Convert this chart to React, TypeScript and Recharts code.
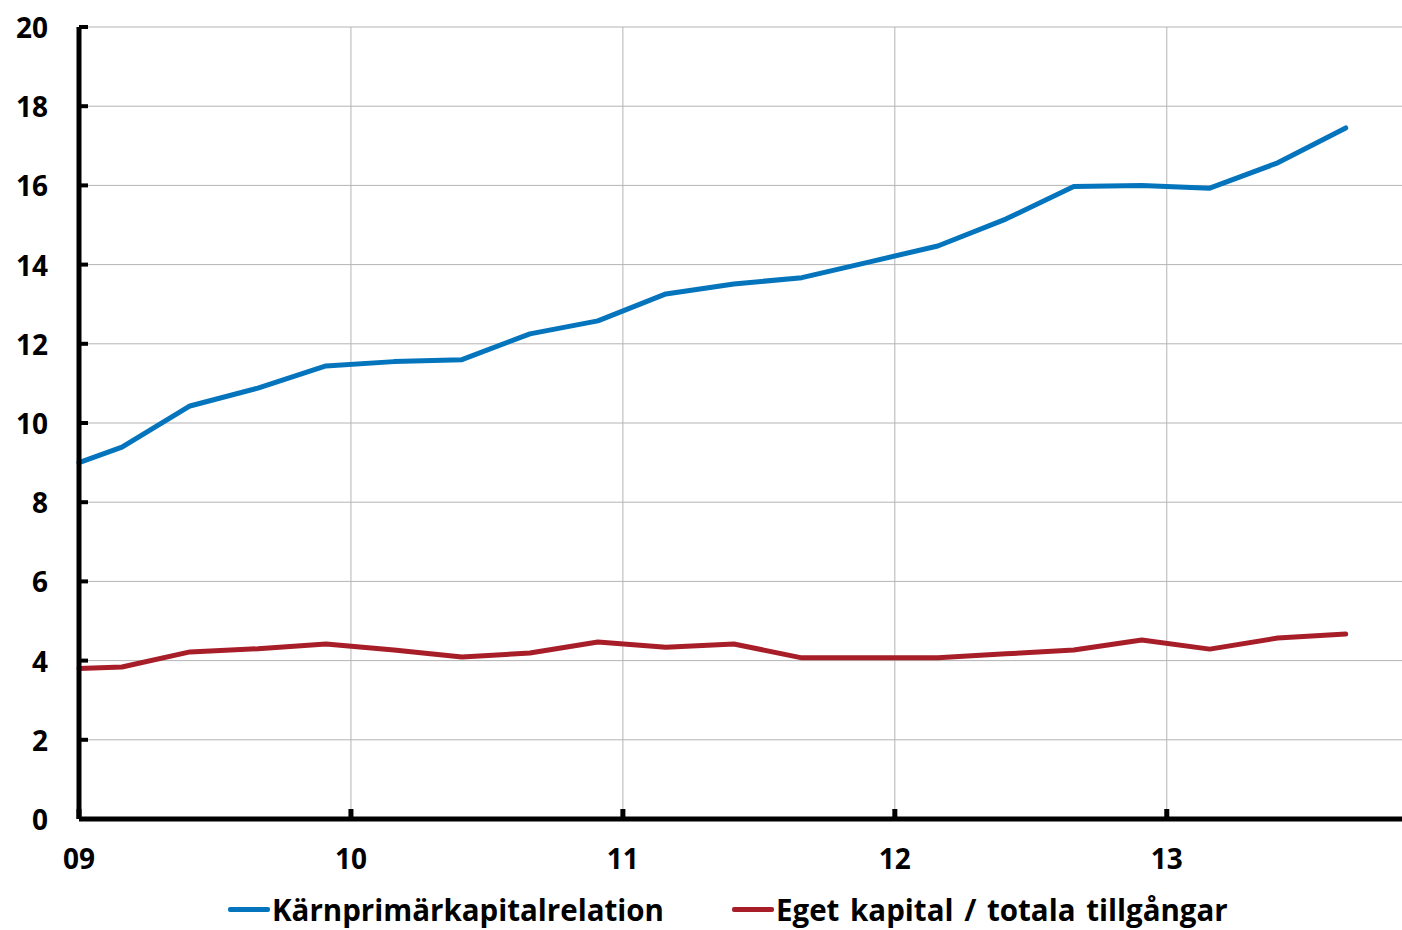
import { LineChart, Line, XAxis, YAxis, CartesianGrid, Legend, ReferenceLine } from 'recharts'

// x position in years (09 = 9.0); first point is where the lines meet the y-axis
const xPos = [
  9.0, 9.158, 9.408, 9.658, 9.908, 10.158, 10.408, 10.658, 10.908, 11.158,
  11.408, 11.658, 11.908, 12.158, 12.408, 12.658, 12.908, 13.158, 13.408, 13.658,
]
const karnprimar = [
  9.0, 9.39, 10.43, 10.88, 11.44, 11.55, 11.6, 12.25, 12.58, 13.26,
  13.51, 13.67, 14.07, 14.47, 15.15, 15.97, 16.0, 15.93, 16.57, 17.45,
]
const egetKapital = [
  3.8, 3.84, 4.22, 4.3, 4.42, 4.27, 4.09, 4.19, 4.47, 4.34,
  4.42, 4.07, 4.07, 4.07, 4.17, 4.27, 4.52, 4.29, 4.57, 4.67,
]
const yearTicks = [9, 10, 11, 12, 13]
const valueTicks = [0, 2, 4, 6, 8, 10, 12, 14, 16, 18, 20]

const BLUE = '#0474BC'
const RED = '#A71E28'
const GRID = '#b4b4b4'
const FONT = '"Open Sans", "Noto Sans", sans-serif'

const data = xPos.map((x, i) => ({
  x,
  karn: karnprimar[i],
  eget: egetKapital[i],
}))

function XTick({ x, y, payload }: { x?: number; y?: number; payload?: { value: number } }) {
  if (!payload || x == null || y == null) return null
  const label = String(payload.value).padStart(2, '0')
  return (
    <g>
      <rect x={x - 2.5} y={y - 10} width={5} height={10} fill="#000" />
      <text x={x} y={y + 39} textAnchor="middle" dominantBaseline="central"
        fontFamily={FONT} fontWeight={700} fontSize={28} fill="#000">
        {label}
      </text>
    </g>
  )
}

function YTick({ x, y, payload }: { x?: number; y?: number; payload?: { value: number } }) {
  if (!payload || x == null || y == null) return null
  return (
    <g>
      <rect x={x} y={y - 2} width={9} height={4} fill="#000" />
      <text x={x - 31} y={y} textAnchor="end" dominantBaseline="central"
        fontFamily={FONT} fontWeight={700} fontSize={28} fill="#000">
        {payload.value}
      </text>
    </g>
  )
}

function LegendContent() {
  const items = [
    { label: 'Kärnprimärkapitalrelation', color: BLUE },
    { label: 'Eget kapital / totala tillgångar', color: RED },
  ]
  return (
    <div style={{ display: 'flex', alignItems: 'center', paddingLeft: 228, height: 41 }}>
      {items.map((it, i) => (
        <div key={it.label} style={{ display: 'flex', alignItems: 'center', marginLeft: i ? 68 : 0 }}>
          <span style={{ width: 42, height: 5, background: it.color, borderRadius: 2, marginRight: 2 }} />
          <span style={{ fontFamily: FONT, fontWeight: 700, fontSize: 29.5, color: '#000', whiteSpace: 'nowrap', wordSpacing: 3 }}>
            {it.label}
          </span>
        </div>
      ))}
    </div>
  )
}

export default function App() {
  return (
    <div style={{ width: 1402, height: 930, background: '#fff' }}>
      <style>{`body{margin:0}`}</style>
      <LineChart width={1402} height={930} data={data}
        margin={{ top: 27, right: 0, left: 0, bottom: 0 }}>
        <CartesianGrid stroke={GRID} strokeWidth={1} vertical={false} />
        {yearTicks.slice(1).map((t) => (
          <ReferenceLine key={t} x={t} stroke={GRID} strokeWidth={1} />
        ))}
        <XAxis
          dataKey="x"
          type="number"
          domain={[9, 13.865]}
          ticks={yearTicks}
          tick={<XTick />}
          tickLine={false}
          tickSize={0}
          tickMargin={0}
          height={70}
          axisLine={{ stroke: '#000', strokeWidth: 5 }}
          interval={0}
        />
        <YAxis
          type="number"
          domain={[0, 20]}
          ticks={valueTicks}
          tick={<YTick />}
          tickLine={false}
          tickSize={0}
          tickMargin={0}
          width={79}
          axisLine={{ stroke: '#000', strokeWidth: 5 }}
          interval={0}
        />
        <Legend verticalAlign="bottom" align="left" height={41} content={<LegendContent />}
          wrapperStyle={{ left: 0, width: 1402 }} />
        <Line type="linear" dataKey="karn" stroke={BLUE} strokeWidth={5} dot={false}
          isAnimationActive={false} strokeLinejoin="round" strokeLinecap="round" />
        <Line type="linear" dataKey="eget" stroke={RED} strokeWidth={5} dot={false}
          isAnimationActive={false} strokeLinejoin="round" strokeLinecap="round" />
      </LineChart>
    </div>
  )
}
